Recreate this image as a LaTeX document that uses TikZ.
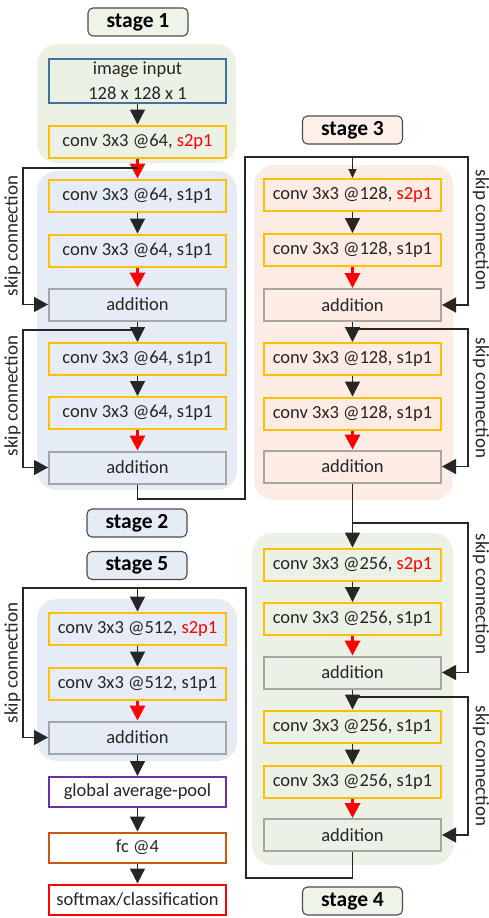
\documentclass[tikz,border=0pt]{standalone}
\usepackage{fontspec}
\setmainfont{Carlito}
\usetikzlibrary{arrows.meta}
\definecolor{bggreen}{HTML}{EBF1E4}
\definecolor{bgblue}{HTML}{E6ECF5}
\definecolor{bgorange}{HTML}{FCECE3}
\definecolor{convc}{HTML}{FFC000}
\definecolor{addc}{HTML}{A6A6A6}
\definecolor{inpc}{HTML}{41719C}
\definecolor{gapc}{HTML}{7030A0}
\definecolor{fcc}{HTML}{C55A11}
\definecolor{redc}{HTML}{FF0000}
\definecolor{txt}{HTML}{262626}
\begin{document}
\begin{tikzpicture}[x=1pt,y=-1pt,
  box/.style={draw, line width=2pt, minimum width=177pt, minimum height=32pt, inner sep=0pt, font=\fontsize{18.5}{25}\selectfont, text=txt},
  convbox/.style={box, draw=convc},
  addbox/.style={box, draw=addc},
  stagebox/.style={draw=black!70, line width=1.1pt, rounded corners=5pt, minimum width=100pt, minimum height=28pt, inner sep=0pt, font=\bfseries\fontsize{21.5}{24}\selectfont},
  bgbox/.style={rounded corners=20pt},
  line/.style={draw=black!85, line width=1.3pt},
  arr/.style={line, -{Triangle[width=15pt,length=15pt]}},
  redarr/.style={draw=redc, line width=3pt, -{Triangle[width=15pt,length=15pt]}},
  smallarr/.style={line, -{Triangle[width=8pt,length=9pt]}},
  skiparr/.style={line, -{Triangle[width=15pt,length=14pt]}},
  skiplab/.style={font=\fontsize{19}{22}\selectfont, text=txt, inner sep=0pt}
]
\useasboundingbox (0,0) rectangle (489,918);
% backgrounds
\fill[bggreen, bgbox] (37,44) rectangle (236,163);
\fill[bgblue, bgbox] (37,171) rectangle (237,490);
\fill[bgorange, bgbox] (254,165) rectangle (453,500);
\fill[bggreen, bgbox] (252,533) rectangle (453,865);
\fill[bgblue, bgbox] (37,599) rectangle (237,761);
% stage labels
\node[stagebox, fill=bggreen!80!white] (st1) at (138,22) {stage 1};
\node[stagebox, fill=bgorange!80!white] (st3) at (352.5,130) {stage 3};
\node[stagebox, fill=bgblue] (st2) at (137,523) {stage 2};
\node[stagebox, fill=bgblue] (st5) at (137,565.5) {stage 5};
\node[stagebox, fill=bggreen!80!white] (st4) at (352.5,901) {stage 4};
% stage 1
\node[box, draw=inpc, minimum height=44pt, align=center] (inp) at (137.5,81) {image input\\128 x 128 x 1};
\node[convbox] (c10) at (137.5,141.5) {conv 3x3 @64, \textcolor{redc}{s2p1}};
% stage 2
\node[convbox] (c21) at (137.5,195.5) {conv 3x3 @64, s1p1};
\node[convbox] (c22) at (137.5,250.5) {conv 3x3 @64, s1p1};
\node[addbox] (a21) at (137.5,304.5) {addition};
\node[convbox] (c23) at (137.5,359) {conv 3x3 @64, s1p1};
\node[convbox] (c24) at (137.5,413) {conv 3x3 @64, s1p1};
\node[addbox] (a22) at (137.5,467.5) {addition};
% stage 3
\node[convbox] (c31) at (352.5,195) {conv 3x3 @128, \textcolor{redc}{s2p1}};
\node[convbox] (c32) at (352.5,250) {conv 3x3 @128, s1p1};
\node[addbox] (a31) at (352.5,305) {addition};
\node[convbox] (c33) at (352.5,359) {conv 3x3 @128, s1p1};
\node[convbox] (c34) at (352.5,413.5) {conv 3x3 @128, s1p1};
\node[addbox] (a32) at (352.5,466.5) {addition};
% stage 4
\node[convbox] (c41) at (352.5,564.5) {conv 3x3 @256, \textcolor{redc}{s2p1}};
\node[convbox] (c42) at (352.5,619) {conv 3x3 @256, s1p1};
\node[addbox] (a41) at (352.5,672.5) {addition};
\node[convbox] (c43) at (352.5,726.5) {conv 3x3 @256, s1p1};
\node[convbox] (c44) at (352.5,781.5) {conv 3x3 @256, s1p1};
\node[addbox] (a42) at (352.5,835) {addition};
% stage 5
\node[convbox] (c51) at (137.5,628.5) {conv 3x3 @512, \textcolor{redc}{s2p1}};
\node[convbox] (c52) at (137.5,683.5) {conv 3x3 @512, s1p1};
\node[addbox] (a51) at (137.5,737.5) {addition};
\node[box, draw=gapc, fill=white, minimum height=30pt] (gap) at (137.5,792) {global average-pool};
\node[box, draw=fcc, fill=white, minimum height=30pt] (fc) at (137.5,847.5) {fc @4};
\node[box, draw=redc, fill=white, minimum height=30pt] (sm) at (137.5,899.5) {softmax/classification};
% coordinates of junctions
\coordinate (j1) at (137.5,168);
\coordinate (j2) at (137.5,330);
\coordinate (t3) at (352.5,157);
\coordinate (m3) at (352.5,329);
\coordinate (t4) at (352.5,523);
\coordinate (m4) at (352.5,697);
\coordinate (t5) at (137.5,588);
% stage 1 arrows
\draw[arr] (inp) -- (c10);
\draw[redarr] (c10) -- (c21);
% stage 2
\draw[arr] (c21) -- (c22);
\draw[redarr] (c22) -- (a21);
\draw[arr] (a21) -- (c23);
\draw[arr] (c23) -- (c24);
\draw[redarr] (c24) -- (a22);
\draw[skiparr] (j1) -- (23,168) |- (a21.west);
\draw[skiparr] (j2) -- (23,330) |- (a22.west);
% stage 2 -> 3
\draw[line] (a22.south) -- (137.5,499) -- (245,499) -- (245,157) -- (t3);
\draw[smallarr] (t3) -- (c31.north);
\draw[skiparr] (t3) -- (468,157) |- (a31.east);
% stage 3
\draw[arr] (c31) -- (c32);
\draw[redarr] (c32) -- (a31);
\draw[arr] (a31) -- (c33);
\draw[arr] (c33) -- (c34);
\draw[redarr] (c34) -- (a32);
\draw[skiparr] (m3) -- (468,329) |- (a32.east);
% stage 3 -> 4
\draw[arr] (a32) -- (c41);
\draw[skiparr] (t4) -- (468,523) |- (a41.east);
% stage 4
\draw[arr] (c41) -- (c42);
\draw[redarr] (c42) -- (a41);
\draw[arr] (a41) -- (c43);
\draw[arr] (c43) -- (c44);
\draw[redarr] (c44) -- (a42);
\draw[skiparr] (m4) -- (468,697) |- (a42.east);
% stage 4 -> 5
\draw[line] (a42.south) -- (352.5,878) -- (246,878) -- (246,588) -- (t5);
\draw[arr] (t5) -- (c51.north);
\draw[skiparr] (t5) -- (23,588) |- (a51.west);
% stage 5
\draw[arr] (c51) -- (c52);
\draw[redarr] (c52) -- (a51);
\draw[arr] (a51) -- (gap);
\draw[arr] (gap) -- (fc);
\draw[arr] (fc) -- (sm);
% skip labels
\node[skiplab, rotate=90] (l1) at (12.5,236) {skip connection};
\node[skiplab, rotate=90] (l2) at (12.5,396) {skip connection};
\node[skiplab, rotate=90] (l5) at (12.5,663) {skip connection};
\node[skiplab, rotate=-90] (l3) at (481,230) {skip connection};
\node[skiplab, rotate=-90] (l4) at (481,398) {skip connection};
\node[skiplab, rotate=-90] (l6) at (481,594) {skip connection};
\node[skiplab, rotate=-90] (l7) at (481,766) {skip connection};
\end{tikzpicture}
\end{document}
